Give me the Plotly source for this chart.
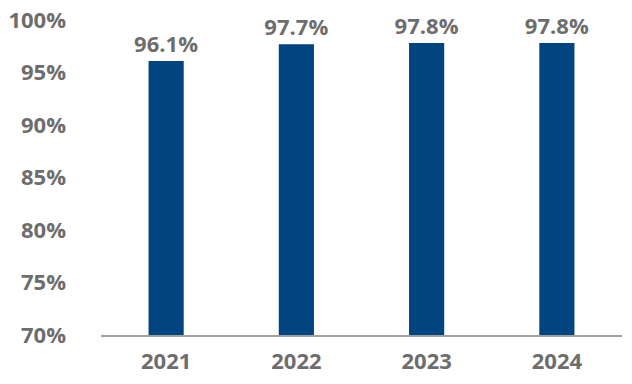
import plotly.graph_objects as go

years = ["2021", "2022", "2023", "2024"]
values = [96.1, 97.7, 97.8, 97.8]
labels = ["96.1%", "97.7%", "97.8%", "97.8%"]
y_ticks = [70, 75, 80, 85, 90, 95, 100]
y_tick_text = ["70%", "75%", "80%", "85%", "90%", "95%", "100%"]

gray = "#6d6d6d"
fnt = "Open Sans"
fig = go.Figure(go.Bar(
    x=years, y=values, text=labels, textposition="outside",
    constraintext="none",
    marker=dict(color="#00457f", line=dict(width=0)),
    textfont=dict(family=fnt, size=22, color=gray, weight="bold"),
    cliponaxis=False, width=0.27,
))
# page body has an 8px margin: figure is shifted by 8px right and down
fig.update_layout(
    width=624, height=376,
    margin=dict(l=93, r=10, t=12, b=49, autoexpand=False),
    plot_bgcolor="white", paper_bgcolor="white",
    showlegend=False,
    font=dict(family=fnt, size=22, color=gray, weight="bold"),
)
fig.update_yaxes(range=[70, 100], tickvals=y_ticks, ticktext=y_tick_text,
                 showgrid=False, zeroline=False, showline=False, ticks="",
                 ticklabelstandoff=34, automargin=False, ticklabeloverflow="allow")
fig.update_xaxes(showgrid=False, showline=True, linecolor="#a0a0a0", linewidth=2,
                 ticks="", ticklabelstandoff=6, automargin=False)
fig.write_html("out.html")
